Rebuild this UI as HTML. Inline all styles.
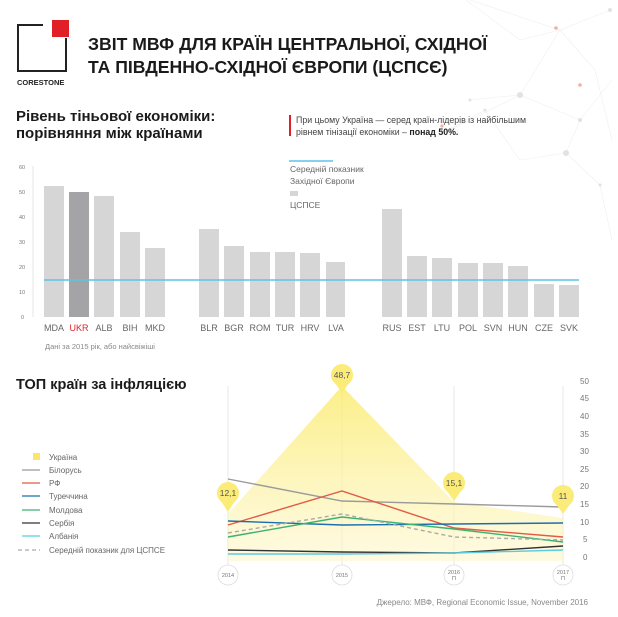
<!DOCTYPE html>
<html><head><meta charset="utf-8"><style>
html,body{margin:0;padding:0;background:#fff}
body{width:618px;height:617px;position:relative;overflow:hidden;font-family:"Liberation Sans","DejaVu Sans",sans-serif;color:#222}
</style></head><body>
<svg width="618" height="617" style="position:absolute;left:0;top:0" xmlns="http://www.w3.org/2000/svg" font-family="Liberation Sans, DejaVu Sans, sans-serif">
<defs>
<linearGradient id="yg" x1="0" y1="0" x2="0" y2="1">
<stop offset="0" stop-color="#fbeb6a" stop-opacity="0.8"/>
<stop offset="1" stop-color="#fdf6c8" stop-opacity="0.55"/>
</linearGradient>
</defs>
<g stroke="#efefef" stroke-width="0.6" fill="none">
<path d="M470 0 L560 30 L610 10 M560 30 L520 95 L470 100 M520 95 L580 120 L612 80 M580 120 L566 153 L520 160 M566 153 L600 185 M520 95 L430 140 M560 30 L595 70 L612 140 M430 140 L485 110 L520 160 M600 185 L612 240 M466 0 L520 40 L560 30"/>
</g>
<g fill="#e2e2e2"><circle cx="566" cy="153" r="3"/><circle cx="520" cy="95" r="3"/><circle cx="610" cy="10" r="2"/><circle cx="580" cy="120" r="2"/><circle cx="470" cy="100" r="1.5"/><circle cx="600" cy="185" r="1.5"/><circle cx="485" cy="110" r="1.5"/></g>
<g fill="#f3b0a0"><circle cx="556" cy="28" r="1.8"/><circle cx="580" cy="85" r="1.8"/><circle cx="442" cy="126" r="1.6"/></g>
<path d="M43 25 H18 V71 H66 V38" fill="none" stroke="#222" stroke-width="2"/>
<rect x="52" y="20" width="17" height="17" fill="#e01f26"/>
<text x="17" y="85" font-size="7.5" font-weight="bold" fill="#222">CORESTONE</text>
<text x="88" y="50" font-size="17.6" font-weight="bold" fill="#1a1a1a">ЗВІТ МВФ ДЛЯ КРАЇН ЦЕНТРАЛЬНОЇ, СХІДНОЇ</text>
<text x="88" y="73" font-size="17.6" font-weight="bold" fill="#1a1a1a">ТА ПІВДЕННО-СХІДНОЇ ЄВРОПИ (ЦСПСЄ)</text>
<text x="16" y="121" font-size="15" font-weight="bold" fill="#1a1a1a">Рівень тіньової економіки:</text>
<text x="16" y="138" font-size="15" font-weight="bold" fill="#1a1a1a">порівняння між країнами</text>
<rect x="289" y="115" width="2" height="21" fill="#e01f26"/>
<text x="296" y="123" font-size="8.8" fill="#444">При цьому Україна — серед країн-лідерів із найбільшим</text>
<text x="296" y="135" font-size="8.8" fill="#444">рівнем тінізації економіки – <tspan font-weight="bold" fill="#222">понад 50%.</tspan></text>
<line x1="289" y1="161" x2="333" y2="161" stroke="#5bc3ea" stroke-width="1.5"/>
<text x="290" y="172" font-size="8.5" fill="#666">Середній показник</text>
<text x="290" y="184" font-size="8.5" fill="#666">Західної Європи</text>
<rect x="290" y="191" width="8" height="5" fill="#d6d6d7"/>
<text x="290" y="208" font-size="8.5" fill="#666">ЦСПСЕ</text>
<g font-size="5.5" fill="#777">
<text x="19" y="169">60</text><text x="19" y="194">50</text><text x="19" y="219">40</text><text x="19" y="244">30</text><text x="19" y="269">20</text><text x="19" y="294">10</text><text x="21" y="319">0</text>
</g>
<line x1="33" y1="166" x2="33" y2="317" stroke="#ccc" stroke-width="0.5"/>
<g fill="#d6d6d7">
<rect x="44" y="186" width="20" height="131"/>
<rect x="69" y="192" width="20" height="125" fill="#a4a4a6"/>
<rect x="94" y="196" width="20" height="121"/>
<rect x="120" y="232" width="20" height="85"/>
<rect x="145" y="248" width="20" height="69"/>
<rect x="199" y="229" width="20" height="88"/>
<rect x="224" y="246" width="20" height="71"/>
<rect x="250" y="252" width="20" height="65"/>
<rect x="275" y="252" width="20" height="65"/>
<rect x="300" y="253" width="20" height="64"/>
<rect x="326" y="262" width="19" height="55"/>
<rect x="382" y="209" width="20" height="108"/>
<rect x="407" y="256" width="20" height="61"/>
<rect x="432" y="258" width="20" height="59"/>
<rect x="458" y="263" width="20" height="54"/>
<rect x="483" y="263" width="20" height="54"/>
<rect x="508" y="266" width="20" height="51"/>
<rect x="534" y="284" width="20" height="33"/>
<rect x="559" y="285" width="20" height="32"/>
</g>
<line x1="44" y1="280" x2="579" y2="280" stroke="#5bc3ea" stroke-width="1.5"/>
<g font-size="9" fill="#666" text-anchor="middle">
<text x="54" y="331">MDA</text><text x="79" y="331" fill="#e01f26">UKR</text><text x="104" y="331">ALB</text><text x="130" y="331">BIH</text><text x="155" y="331">MKD</text>
<text x="209" y="331">BLR</text><text x="234" y="331">BGR</text><text x="260" y="331">ROM</text><text x="285" y="331">TUR</text><text x="310" y="331">HRV</text><text x="336" y="331">LVA</text>
<text x="392" y="331">RUS</text><text x="417" y="331">EST</text><text x="442" y="331">LTU</text><text x="468" y="331">POL</text><text x="493" y="331">SVN</text><text x="518" y="331">HUN</text><text x="544" y="331">CZE</text><text x="569" y="331">SVK</text>
</g>
<text x="45" y="349" font-size="7.5" fill="#888">Дані за 2015 рік, або найсвіжіші</text>
<text x="16" y="389" font-size="14.5" font-weight="bold" fill="#1a1a1a">ТОП країн за інфляцією</text>
<g stroke="#ddd" stroke-width="0.7">
<line x1="228" y1="386" x2="228" y2="565"/><line x1="342" y1="386" x2="342" y2="565"/><line x1="454" y1="386" x2="454" y2="565"/><line x1="563" y1="386" x2="563" y2="565"/>
</g>
<polygon points="228,514 342,386 454,502 563,518 563,561 228,561" fill="url(#yg)"/>
<g font-size="8" fill="#777">
<text x="580" y="384">50</text><text x="580" y="401">45</text><text x="580" y="419">40</text><text x="580" y="437">35</text><text x="580" y="454">30</text><text x="580" y="472">25</text><text x="580" y="489">20</text><text x="580" y="507">15</text><text x="580" y="525">10</text><text x="583" y="542">5</text><text x="583" y="560">0</text>
</g>
<g fill="none" stroke-width="1.4">
<polyline points="228,479 342,501 454,504 563,507" stroke="#9a9a9a"/>
<polyline points="228,525 342,491 454,528 563,537" stroke="#e35a45"/>
<polyline points="228,521 342,525 454,524 563,523" stroke="#1a6fb0"/>
<polyline points="228,537 342,517 454,529 563,542" stroke="#3bb273"/>
<polyline points="228,550 342,552 454,553 563,546" stroke="#333"/>
<polyline points="228,554 342,554 454,553 563,550" stroke="#5ccbe0"/>
<polyline points="228,533 342,514 454,537 563,540" stroke="#aaa" stroke-dasharray="4,3"/>
</g>
<g fill="#fbeb78">
<circle cx="228" cy="493" r="11"/><path d="M221 501 L228 512 L235 501Z"/>
<circle cx="342" cy="375" r="11"/><path d="M335 383 L342 393 L349 383Z"/>
<circle cx="454" cy="483" r="11"/><path d="M447 491 L454 501 L461 491Z"/>
<circle cx="563" cy="496" r="11"/><path d="M556 504 L563 514 L570 504Z"/>
</g>
<g font-size="8.5" fill="#555" text-anchor="middle">
<text x="228" y="496">12,1</text><text x="342" y="378">48,7</text><text x="454" y="486">15,1</text><text x="563" y="499">11</text>
</g>
<g fill="#fff" stroke="#ddd" stroke-width="0.8">
<circle cx="228" cy="575" r="10"/><circle cx="342" cy="575" r="10"/><circle cx="454" cy="575" r="10"/><circle cx="563" cy="575" r="10"/>
</g>
<g font-size="5.5" fill="#777" text-anchor="middle">
<text x="228" y="577">2014</text><text x="342" y="577">2015</text><text x="454" y="574">2016</text><text x="454" y="580">П</text><text x="563" y="574">2017</text><text x="563" y="580">П</text>
</g>
<rect x="33" y="453" width="7" height="7" fill="#fbe56a"/>
<g stroke-width="1.2">
<line x1="22" y1="470" x2="40" y2="470" stroke="#9a9a9a"/>
<line x1="22" y1="483" x2="40" y2="483" stroke="#e35a45"/>
<line x1="22" y1="496" x2="40" y2="496" stroke="#1a6fb0"/>
<line x1="22" y1="510" x2="40" y2="510" stroke="#3bb273"/>
<line x1="22" y1="523" x2="40" y2="523" stroke="#333"/>
<line x1="22" y1="536" x2="40" y2="536" stroke="#5ccbe0"/>
<line x1="18" y1="550" x2="40" y2="550" stroke="#aaa" stroke-dasharray="4,3"/>
</g>
<g font-size="8" fill="#666">
<text x="49" y="460">Україна</text><text x="49" y="473">Білорусь</text><text x="49" y="486">РФ</text><text x="49" y="499">Туреччина</text><text x="49" y="513">Молдова</text><text x="49" y="526">Сербія</text><text x="49" y="539">Албанія</text><text x="49" y="553">Середній показник для ЦСПСЕ</text>
</g>
<text x="588" y="605" font-size="8" fill="#888" text-anchor="end">Джерело: МВФ, Regional Economic Issue, November 2016</text>
</svg>
</body></html>
